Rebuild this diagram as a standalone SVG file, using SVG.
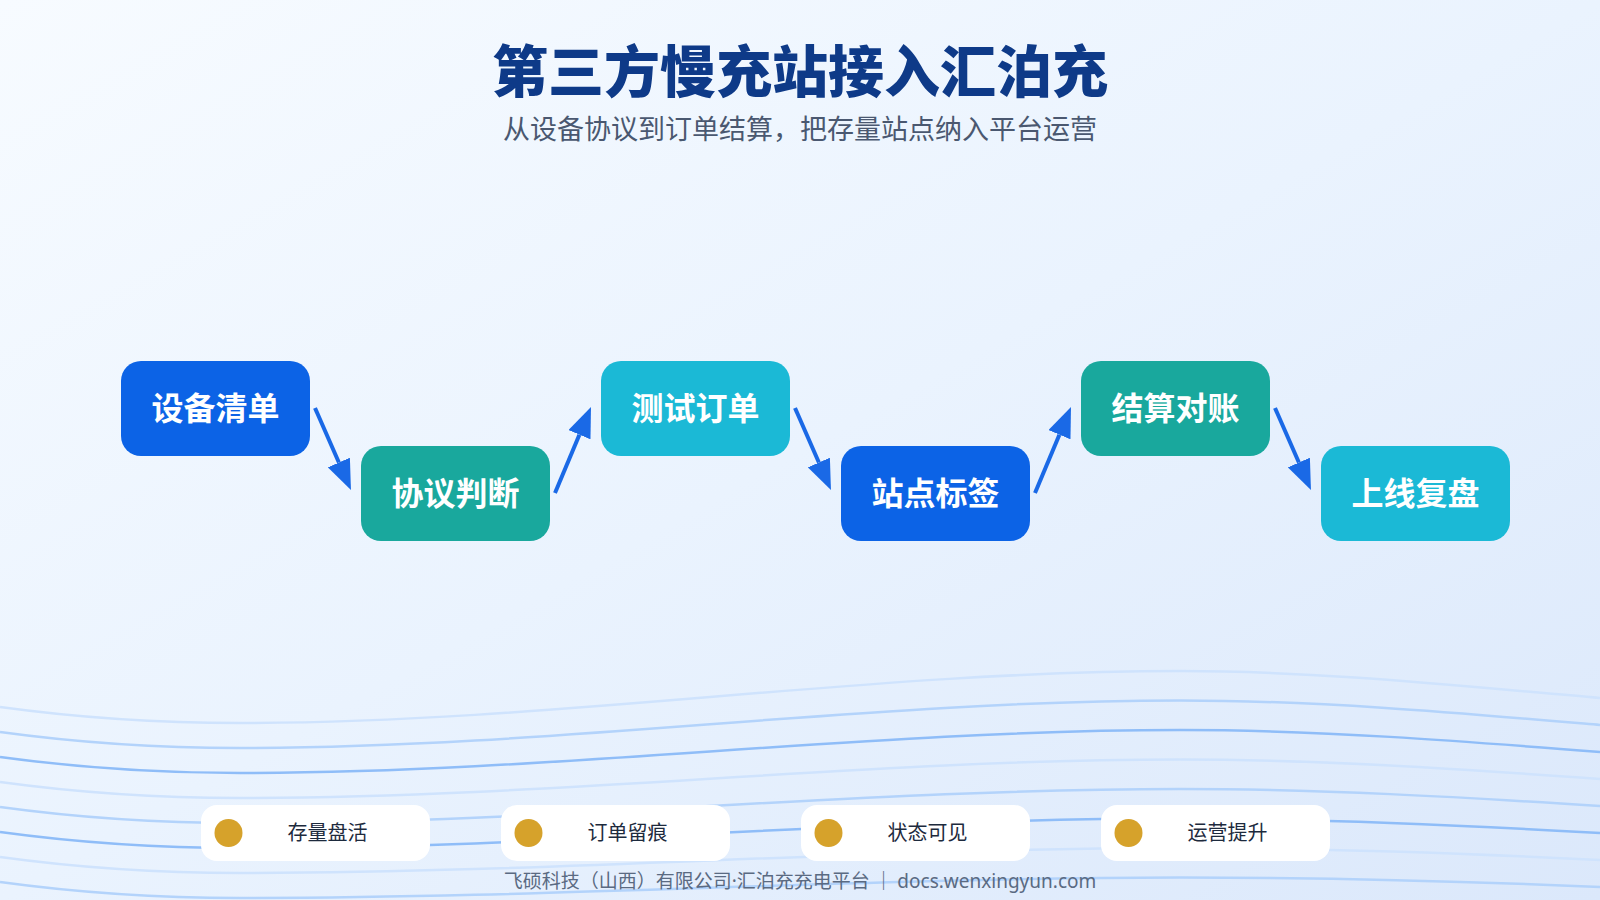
<svg xmlns="http://www.w3.org/2000/svg" width="1600" height="900" viewBox="0 0 1600 900">
  <defs>
    <linearGradient id="bg" x1="0" y1="0" x2="1" y2="1">
      <stop offset="0" stop-color="#f7fbff"/>
      <stop offset="0.5" stop-color="#eaf3fe"/>
      <stop offset="1" stop-color="#dbe8fb"/>
    </linearGradient>
    <marker id="ah" viewBox="0 0 30 24" refX="0" refY="12" markerWidth="30" markerHeight="24" markerUnits="userSpaceOnUse" orient="auto">
      <path d="M0,0 L30,12 L0,24 Z" fill="#1a69e6"/>
    </marker>
    <style>
      .title{font-family:"Noto Sans CJK SC","Noto Sans",sans-serif;font-weight:900;font-size:56px;fill:#0e3a88;text-anchor:middle}
      .sub{font-family:"Noto Sans CJK SC","Noto Sans",sans-serif;font-size:27px;fill:#4a5870;text-anchor:middle}
      .node rect{stroke:none}
      .ntext{font-family:"Noto Sans CJK SC","Noto Sans",sans-serif;font-weight:700;font-size:32px;fill:#ffffff;text-anchor:middle}
      .blue{fill:#0c63e6}
      .teal{fill:#19a89d}
      .cyan{fill:#1bb9d6}
      .conn{stroke:#1a69e6;stroke-width:4;fill:none;marker-end:url(#ah)}
      .pill{fill:#ffffff}
      .dot{fill:#d6a22b}
      .ptext{font-family:"Noto Sans CJK SC","Noto Sans",sans-serif;font-size:20px;fill:#1d2a3d;text-anchor:middle}
      .foot{font-family:"Noto Sans CJK SC","Noto Sans",sans-serif;font-size:19px;fill:#5a6a82;text-anchor:middle}
      .lat{font-family:"Noto Sans","Liberation Sans",sans-serif}
      .w{fill:none}
      .wf{stroke:#cfe3fd;stroke-width:2.5}
      .wm{stroke:#b3d3fb;stroke-width:2.5}
      .ws{stroke:#8fbdf8;stroke-width:2.5}
    </style>
  </defs>
  <rect x="0" y="0" width="1600" height="900" fill="url(#bg)"/>

  <g id="waves">
    <path class="w wf" d="M0,707 C80,718 160,723 240,723 C553,723 867,671 1180,671 C1320,671 1460,686 1600,698"/>
    <path class="w wm" d="M0,732 C80,743 160,748 240,748 C553,748 867,700.5 1180,700.5 C1320,700.5 1460,713 1600,725"/>
    <path class="w ws" d="M0,757 C80,768 160,773 240,773 C553,773 867,730 1180,730 C1320,730 1460,741 1600,752"/>
    <path class="w wf" d="M0,782 C80,793 160,798 240,798 C553,798 867,759.5 1180,759.5 C1320,759.5 1460,769 1600,779"/>
    <path class="w wm" d="M0,807 C80,818 160,823 240,823 C553,823 867,789 1180,789 C1320,789 1460,797 1600,806"/>
    <path class="w ws" d="M0,832 C80,843 160,848 240,848 C553,848 867,818.5 1180,818.5 C1320,818.5 1460,825 1600,833"/>
    <path class="w wf" d="M0,857 C80,868 160,873 240,873 C553,873 867,848 1180,848 C1320,848 1460,853 1600,860"/>
    <path class="w wm" d="M0,882 C80,893 160,898 240,898 C553,898 867,877.5 1180,877.5 C1320,877.5 1460,881 1600,887"/>
  </g>

  <text class="title" x="800" y="92">第三方慢充站接入汇泊充</text>
  <text class="sub" x="800" y="139">从设备协议到订单结算，把存量站点纳入平台运营</text>

  <g id="connectors">
    <line class="conn" x1="315" y1="408" x2="338.9" y2="462.5"/>
    <line class="conn" x1="555" y1="493" x2="579.4" y2="434.7"/>
    <line class="conn" x1="795" y1="408" x2="818.9" y2="462.5"/>
    <line class="conn" x1="1035" y1="493" x2="1059.4" y2="434.7"/>
    <line class="conn" x1="1275" y1="408" x2="1298.9" y2="462.5"/>
  </g>

  <g id="node1" class="node">
    <rect class="blue" x="121" y="361" width="189" height="95" rx="20"/>
    <text class="ntext" x="215.5" y="420">设备清单</text>
  </g>
  <g id="node2" class="node">
    <rect class="teal" x="361" y="446" width="189" height="95" rx="20"/>
    <text class="ntext" x="455.5" y="505">协议判断</text>
  </g>
  <g id="node3" class="node">
    <rect class="cyan" x="601" y="361" width="189" height="95" rx="20"/>
    <text class="ntext" x="695.5" y="420">测试订单</text>
  </g>
  <g id="node4" class="node">
    <rect class="blue" x="841" y="446" width="189" height="95" rx="20"/>
    <text class="ntext" x="935.5" y="505">站点标签</text>
  </g>
  <g id="node5" class="node">
    <rect class="teal" x="1081" y="361" width="189" height="95" rx="20"/>
    <text class="ntext" x="1175.5" y="420">结算对账</text>
  </g>
  <g id="node6" class="node">
    <rect class="cyan" x="1321" y="446" width="189" height="95" rx="20"/>
    <text class="ntext" x="1415.5" y="505">上线复盘</text>
  </g>

  <g id="pill1">
    <rect class="pill" x="201" y="805" width="229" height="56" rx="16"/>
    <circle class="dot" cx="228.5" cy="833" r="14"/>
    <text class="ptext" x="327.5" y="840">存量盘活</text>
  </g>
  <g id="pill2">
    <rect class="pill" x="501" y="805" width="229" height="56" rx="16"/>
    <circle class="dot" cx="528.5" cy="833" r="14"/>
    <text class="ptext" x="627.5" y="840">订单留痕</text>
  </g>
  <g id="pill3">
    <rect class="pill" x="801" y="805" width="229" height="56" rx="16"/>
    <circle class="dot" cx="828.5" cy="833" r="14"/>
    <text class="ptext" x="927.5" y="840">状态可见</text>
  </g>
  <g id="pill4">
    <rect class="pill" x="1101" y="805" width="229" height="56" rx="16"/>
    <circle class="dot" cx="1128.5" cy="833" r="14"/>
    <text class="ptext" x="1227.5" y="840">运营提升</text>
  </g>

  <text class="foot" x="800" y="888">飞硕科技（山西）有限公司<tspan class="lat">·</tspan>汇泊充充电平台 ｜ <tspan class="lat">docs.wenxingyun.com</tspan></text>
</svg>
